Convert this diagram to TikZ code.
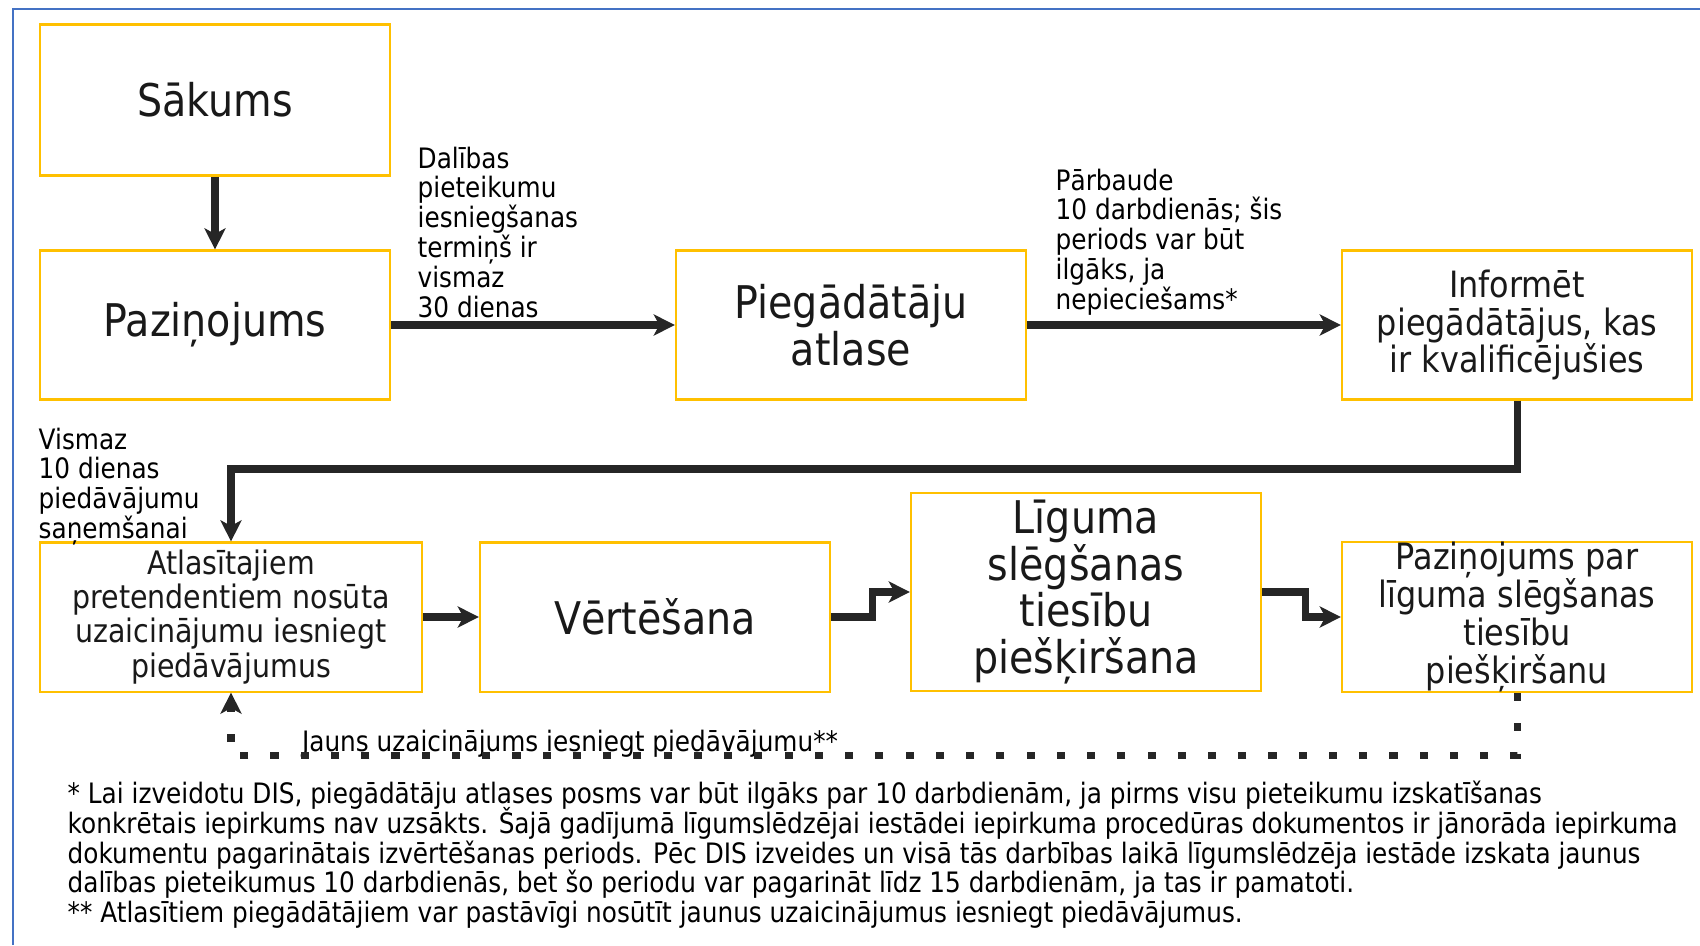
\documentclass[tikz,border=0pt]{standalone}
\usepackage{fontspec}
\setmainfont{DejaVu Sans}[FakeStretch=0.88]
\usetikzlibrary{arrows.meta}
\definecolor{boxgold}{HTML}{FFC000}
\definecolor{framebl}{HTML}{4472C4}
\definecolor{arrowgr}{HTML}{262626}
\AtBeginDocument{\lineskiplimit=-100pt}
\begin{document}
\begin{tikzpicture}[x=0.01cm,y=-0.01cm,
    box/.style={draw=boxgold,line width=0.6pt,minimum width=3.5cm,minimum height=1.49cm,
      inner sep=0pt,align=center,text=black!90},
    big/.style={font=\fontsize{12.8}{13.3}\selectfont},
    mid/.style={font=\fontsize{10.3}{10.8}\selectfont},
    note/.style={inner sep=0pt,align=left,font=\fontsize{8}{8.5}\selectfont},
    conn/.style={draw=arrowgr,line width=2pt,-{Stealth[length=6pt,width=6pt,inset=1.6pt]}},
    dots/.style={conn,dash pattern=on 2.3pt off 6.3pt}]
  \useasboundingbox (0,0) rectangle (1700,945);
  \draw[framebl,line width=0.6pt] (13,945) -- (13,9) -- (1700,9);

  \node[box,big,minimum height=1.51cm] (sak) at (215,100) {Sākums};
  \node[box,big] (paz) at (215,325) {Paziņojums};
  \node[box,big] (pie) at (851,325) {Piegādātāju\\atlase};
  \node[box,mid] (inf) at (1517,325) {Informēt\\piegādātājus, kas\\ir kvalificējušies};
  \node[box,minimum width=3.82cm,font=\fontsize{9.2}{9.7}\selectfont] (uzc) at (231,617)
    {Atlasītajiem\\pretendentiem nosūta\\uzaicinājumu iesniegt\\piedāvājumus};
  \node[box,big] (vert) at (655,617) {Vērtēšana};
  \node[box,big,minimum height=1.98cm] (lig) at (1086,592) {Līguma\\slēgšanas\\tiesību\\piešķiršana};
  \node[box,mid,minimum height=1.48cm] (pzl) at (1517,617) {Paziņojums par\\līguma slēgšanas\\tiesību\\piešķiršanu};

  \node[note,anchor=north west] (t1) at (417,146) {Dalības\\pieteikumu\\iesniegšanas\\termiņš ir\\vismaz\\30 dienas};
  \node[note,anchor=north west] (t2) at (1055,168) {Pārbaude\\10 darbdienās; šis\\periods var būt\\ilgāks, ja\\nepieciešams*};
  \node[note,anchor=north west] (t3) at (38,427) {Vismaz\\10 dienas\\piedāvājumu\\saņemšanai};
  \node[note] (t4) at (570,744) {Jauns uzaicinājums iesniegt piedāvājumu**};

  \draw[conn] (sak) -- (paz);
  \draw[conn] (paz) -- (pie);
  \draw[conn] (pie) -- (inf);
  \draw[conn] (inf.south) -- (inf.south |- 0,469) -| (uzc.north);
  \draw[conn] (uzc) -- (vert);
  \draw[conn] (vert.east) -- ++(41,0) |- (lig.west);
  \draw[conn] (lig.east) -- ++(43,0) |- (pzl.west);
  \draw[dots] (pzl.south) -- ++(0,62) -| (uzc.south);

  \node[note,anchor=north west] (fn) at (67,780)
    {* Lai izveidotu DIS, piegādātāju atlases posms var būt ilgāks par 10 darbdienām, ja pirms visu pieteikumu izskatīšanas\\
     konkrētais iepirkums nav uzsākts. Šajā gadījumā līgumslēdzējai iestādei iepirkuma procedūras dokumentos ir jānorāda iepirkuma\\
     dokumentu pagarinātais izvērtēšanas periods. Pēc DIS izveides un visā tās darbības laikā līgumslēdzēja iestāde izskata jaunus\\
     dalības pieteikumus 10 darbdienās, bet šo periodu var pagarināt līdz 15 darbdienām, ja tas ir pamatoti.\\
     ** Atlasītiem piegādātājiem var pastāvīgi nosūtīt jaunus uzaicinājumus iesniegt piedāvājumus.};
\end{tikzpicture}
\end{document}
